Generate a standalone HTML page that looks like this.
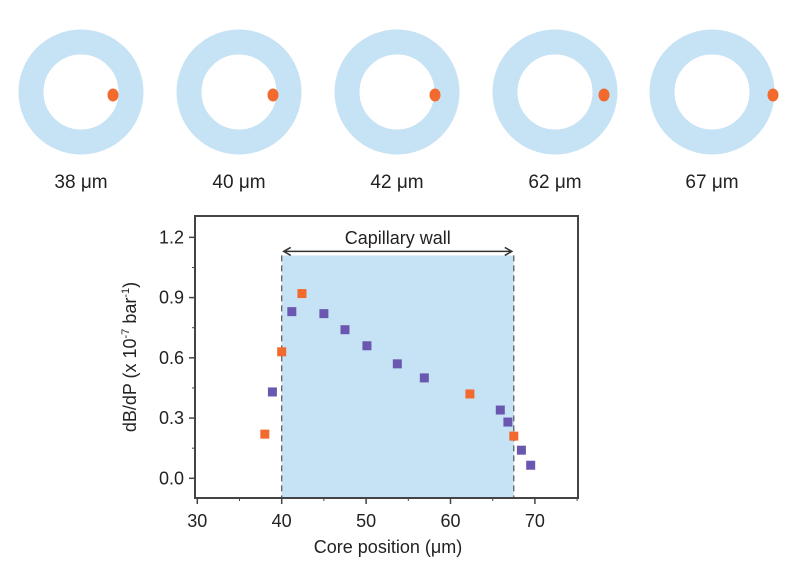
<!DOCTYPE html>
<html><head><meta charset="utf-8"><style>
body{margin:0;background:#fff;width:792px;height:578px;overflow:hidden;font-family:"Liberation Sans",sans-serif;}
</style></head><body>
<svg width="792" height="578" id="svg" font-family="Liberation Sans, sans-serif">
<g id="rings"></g>
<g id="chart"></g>
</svg>
<script>
const ringLabels=["38 μm","40 μm","42 μm","62 μm","67 μm"];
const ringCenters=[81,239,397,555,712];
const dotOffsets=[32,34,38,49,61];
const orangeX=[38,40,42.4,62.3,67.5];
const orangeY=[0.22,0.63,0.92,0.42,0.21];
const purpleX=[38.9,41.2,45,47.5,50.1,53.7,56.9,65.9,66.8,68.4,69.5];
const purpleY=[0.43,0.83,0.82,0.74,0.66,0.57,0.50,0.34,0.28,0.14,0.065];
const xTicks=[30,40,50,60,70];
const yTicks=[0.0,0.3,0.6,0.9,1.2];
const wallStart=40, wallEnd=67.5, wallTop=1.11;
const NS="http://www.w3.org/2000/svg";
function mk(tag,attrs,parent,txt){const e=document.createElementNS(NS,tag);for(const k in attrs)e.setAttribute(k,attrs[k]);if(txt!==undefined)e.textContent=txt;parent.appendChild(e);return e;}
const X=v=>197.3+(v-30)*8.44, Y=v=>478.3-v*200.8;
const rings=document.getElementById('rings');
ringCenters.forEach((cx,i)=>{
 let c=mk('circle',{cx:cx,cy:92,r:50,fill:'none',stroke:'#c6e2f5','stroke-width':25},rings);
 
 
 let d=mk('ellipse',{cx:cx+dotOffsets[i],cy:95,rx:5.5,ry:6.5,fill:'#f26a2e'},rings);
 
 
 let t=mk('text',{x:cx,y:188,'text-anchor':'middle','font-size':19,fill:'#222'},rings,ringLabels[i]);
 
 
});
const ch=document.getElementById('chart');
let sh=mk('rect',{x:X(wallStart),y:Y(wallTop),width:X(wallEnd)-X(wallStart),height:498-Y(wallTop),fill:'#c6e2f5'},ch);


[wallStart,wallEnd].forEach(v=>{let l=mk('line',{x1:X(v),x2:X(v),y1:Y(wallTop),y2:498,stroke:'#555','stroke-width':1.2,'stroke-dasharray':'6,4'},ch);
 
 });
let ar=mk('g',{},ch);


const ay=Y(wallTop)-4;
mk('line',{x1:X(wallStart)+2,x2:X(wallEnd)-2,y1:ay,y2:ay,stroke:'#333','stroke-width':1.5},ar);
mk('polyline',{points:`${X(wallStart)+9},${ay-4} ${X(wallStart)+2},${ay} ${X(wallStart)+9},${ay+4}`,fill:'none',stroke:'#333','stroke-width':1.5},ar);
mk('polyline',{points:`${X(wallEnd)-9},${ay-4} ${X(wallEnd)-2},${ay} ${X(wallEnd)-9},${ay+4}`,fill:'none',stroke:'#333','stroke-width':1.5},ar);
let wt=mk('text',{x:(X(wallStart)+X(wallEnd))/2,y:244,'text-anchor':'middle','font-size':18,fill:'#222'},ch,'Capillary wall');


let fr=mk('rect',{x:195,y:216,width:383,height:282,fill:'none',stroke:'#444','stroke-width':2},ch);


xTicks.forEach(v=>{mk('line',{x1:X(v),x2:X(v),y1:498,y2:504,stroke:'#444','stroke-width':1.5},ch);
 mk('line',{x1:X(v+5),x2:X(v+5),y1:498,y2:501,stroke:'#444','stroke-width':1},ch);
 let t=mk('text',{x:X(v),y:527,'text-anchor':'middle','font-size':18,fill:'#222'},ch,String(v));
 
 });
yTicks.forEach(v=>{mk('line',{x1:195,x2:189,y1:Y(v),y2:Y(v),stroke:'#444','stroke-width':1.5},ch);
 if(v<1.2) mk('line',{x1:195,x2:192,y1:Y(v+0.15),y2:Y(v+0.15),stroke:'#444','stroke-width':1},ch);
 let t=mk('text',{x:184,y:Y(v)+6,'text-anchor':'end','font-size':18,fill:'#222'},ch,v.toFixed(1));
 
 });
let xt=mk('text',{x:388,y:553,'text-anchor':'middle','font-size':18,fill:'#222'},ch,'Core position (μm)');


let yt=mk('text',{x:0,y:0,'text-anchor':'middle','font-size':18,fill:'#222',transform:'translate(136,357) rotate(-90)'},ch);


yt.innerHTML='dB/dP (x 10<tspan dy="-7" font-size="11">-7</tspan><tspan dy="7"> bar</tspan><tspan dy="-7" font-size="11">-1</tspan><tspan dy="7">)</tspan>';
function pts(xs,ys,col,name){xs.forEach((x,i)=>{let r=mk('rect',{x:X(x)-4.5,y:Y(ys[i])-4.5,width:9,height:9,fill:col},ch);
 
 });}
pts(purpleX,purpleY,'#6a58b0','purple-point');
pts(orangeX,orangeY,'#f26a2e','orange-point');
</script>
</body></html>
